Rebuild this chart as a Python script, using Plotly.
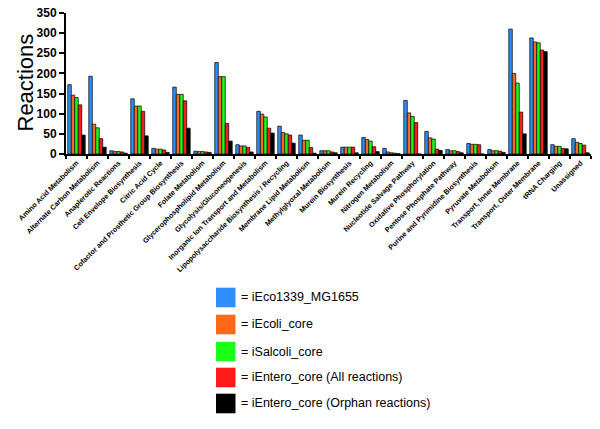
import plotly.graph_objects as go

categories = [
    "Amino Acid Metabolism", "Alternate Carbon Metabolism", "Anaplerotic Reactions",
    "Cell Envelope Biosynthesis", "Citric Acid Cycle", "Cofactor and Prosthetic Group Biosynthesis",
    "Folate Metabolism", "Glycerophospholipid Metabolism", "Glycolysis/Gluconeogenesis",
    "Inorganic Ion Transport and Metabolism", "Lipopolysaccharide Biosynthesis / Recycling",
    "Membrane Lipid Metabolism", "Methylglyoxal Metabolism", "Murein Biosynthesis",
    "Murein Recycling", "Nitrogen Metabolism", "Nucleotide Salvage Pathway",
    "Oxidative Phosphorylation", "Pentose Phosphate Pathway", "Purine and Pyrimidine Biosynthesis",
    "Pyruvate Metabolism", "Transport, Inner Membrane", "Transport, Outer Membrane",
    "tRNA Charging", "Unassigned",
]

iEco1339 = [172, 193, 8, 137, 14, 166, 7, 227, 23, 106, 69, 47, 8, 17, 41, 14, 133, 56, 11, 26, 11, 310, 288, 23, 38]
iEcoli_core = [146, 74, 6, 119, 12, 148, 6, 192, 20, 99, 53, 34, 8, 17, 36, 5, 102, 40, 8, 24, 8, 200, 278, 19, 29]
iSalcoli_core = [140, 65, 6, 119, 12, 148, 6, 192, 20, 92, 50, 34, 8, 17, 32, 3, 93, 37, 8, 24, 8, 176, 276, 19, 26]
iEntero_all = [122, 38, 5, 106, 10, 132, 5, 76, 16, 64, 47, 16, 5, 17, 18, 2, 78, 12, 6, 23, 7, 104, 258, 14, 22]
iEntero_orphan = [47, 17, 2, 45, 4, 64, 4, 32, 5, 52, 27, 2, 3, 3, 6, 1, 0, 9, 3, 0, 4, 50, 254, 13, 3]

series_names = [
    "= iEco1339_MG1655", "= iEcoli_core", "= iSalcoli_core",
    "= iEntero_core (All reactions)", "= iEntero_core (Orphan reactions)",
]
series_values = [iEco1339, iEcoli_core, iSalcoli_core, iEntero_all, iEntero_orphan]
colors = ["#2E90FF", "#FF6A1A", "#1AFF1A", "#FF1A1A", "#000000"]

FONT = "Arial, Liberation Sans, sans-serif"

fig = go.Figure()
for name, vals, col in zip(series_names, series_values, colors):
    fig.add_trace(go.Bar(
        x=categories, y=vals, name=name,
        marker=dict(color=col, line=dict(color="#111111", width=0.8)),
        showlegend=False,
    ))

W, H = 600, 429
ml, mr, mt, mb = 66, 9, 13, 275
pw = W - ml - mr
ph = H - mt - mb

def px_to_paper_x(px):
    return (px - ml) / pw

def py_to_paper_y(py):
    return (H - mb - py) / ph

# y-axis title
fig.add_annotation(xref="paper", yref="paper", x=px_to_paper_x(25), y=py_to_paper_y(82.5),
                   text="Reactions", textangle=-90, showarrow=False,
                   xanchor="center", yanchor="middle",
                   font=dict(family=FONT, size=22, color="#000000"))

# custom legend
leg_centers = [297.5, 324.5, 351.5, 377.5, 403.5]
for name, col, cy in zip(series_names, colors, leg_centers):
    fig.add_shape(type="rect", xref="paper", yref="paper",
                  x0=px_to_paper_x(216), x1=px_to_paper_x(235.5),
                  y0=py_to_paper_y(cy - 9.8), y1=py_to_paper_y(cy + 9.8),
                  fillcolor=col, line=dict(width=0))
    fig.add_annotation(xref="paper", yref="paper",
                       x=px_to_paper_x(239), y=py_to_paper_y(cy),
                       text=name, showarrow=False, xanchor="left", yanchor="middle",
                       font=dict(family=FONT, size=12.5, color="#000000"))

fig.update_layout(
    width=W, height=H,
    margin=dict(l=ml, r=mr, t=mt, b=mb, autoexpand=False),
    paper_bgcolor="white", plot_bgcolor="white",
    barmode="group", bargap=0.17, bargroupgap=0,
    font=dict(family=FONT, color="#000000"),
)
fig.update_xaxes(
    type="category", showline=True, linecolor="#000000", linewidth=2,
    ticks="outside", tickson="boundaries", ticklen=3, tickwidth=2, tickcolor="#000000",
    tickangle=-45, tickfont=dict(family=FONT, size=7.2, color="#000000", weight="bold"),
    showgrid=False, zeroline=False,
)
fig.update_yaxes(
    range=[0, 350], dtick=50, showline=True, linecolor="#000000", linewidth=2,
    ticks="outside", ticklen=5, tickwidth=2, tickcolor="#000000",
    tickfont=dict(family=FONT, size=12, color="#000000", weight="bold"),
    showgrid=False, zeroline=False,
)

fig.write_html("out.html", config={"displayModeBar": False},
               post_script="document.body.style.margin='0';")
